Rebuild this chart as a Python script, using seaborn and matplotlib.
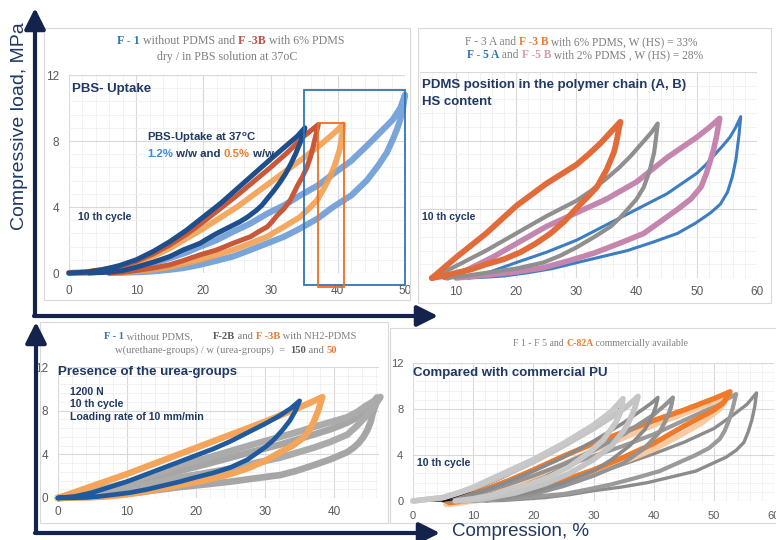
import matplotlib
matplotlib.use("Agg")
import matplotlib.pyplot as plt
from matplotlib.patches import Rectangle
from matplotlib.ticker import AutoMinorLocator
import pandas as pd
import seaborn as sns

# ---- data: hysteresis loops, (compression %, load MPa), loading then unloading
# panel 1 - PBS uptake
p1_f1_dry = [(0, 0), (2.5, 0.05), (5, 0.2), (7.5, 0.45), (10, 0.8), (12.5, 1.3), (15, 1.9), (17.5, 2.6),
             (20, 3.4), (22.5, 4.2), (25, 5.1), (27.5, 6.0), (30, 6.9), (32, 7.6), (34, 8.3), (35.1, 8.8),
             (34.8, 8.3), (34.4, 7.9), (33.7, 7.2), (33, 6.6), (32.2, 6.0), (31.4, 5.5), (30.5, 5.0),
             (29.5, 4.5), (28.7, 4.1), (27.9, 3.8), (26.6, 3.4), (25.4, 3.1), (23.7, 2.75), (22, 2.4),
             (20.7, 2.1), (19.5, 1.8), (17, 1.4), (15, 1.0), (12.5, 0.65), (10, 0.35), (8, 0.15), (6, 0.05),
             (3, 0)]
p1_f3b_dry = [(0, 0), (2.5, 0.05), (5, 0.2), (7.5, 0.4), (10, 0.7), (12.5, 1.15), (15, 1.7), (17.5, 2.35),
              (20, 3.1), (22.5, 3.9), (25, 4.7), (27.5, 5.55), (30, 6.4), (32.5, 7.3), (35, 8.3), (36.2, 8.7),
              (37.1, 9.0), (36.7, 8.3), (36.3, 7.6), (35.9, 7.0), (35.4, 6.4), (34.7, 5.8), (34, 5.3),
              (33.4, 4.8), (32.9, 4.4), (32, 3.9), (31, 3.5), (30.2, 3.1), (29.5, 2.8), (28.2, 2.5), (27, 2.2),
              (25.7, 2.0), (24.4, 1.8), (22, 1.4), (19.5, 1.1), (17, 0.75), (15, 0.5), (12.5, 0.3), (10, 0.15),
              (8, 0.05), (6, 0)]
p1_f3b_pbs = [(0, 0), (2.5, 0.05), (5, 0.2), (7.5, 0.35), (10, 0.6), (12.5, 1.0), (15, 1.5), (17.5, 2.1),
              (20, 2.7), (22.5, 3.35), (25, 4.0), (27.5, 4.75), (30, 5.5), (32.5, 6.25), (35, 7.0), (37.5, 7.8),
              (39.5, 8.5), (40.8, 9.0), (40.6, 8.2), (40.3, 7.5), (39.6, 6.6), (38.8, 5.8), (37.9, 5.1),
              (36.9, 4.4), (35.7, 3.9), (34.4, 3.4), (33.2, 3.1), (32, 2.8), (30.7, 2.5), (29.5, 2.2), (27, 1.8),
              (24.4, 1.4), (22, 1.1), (19.5, 0.8), (17, 0.55), (15, 0.35), (12.5, 0.2), (10, 0.1), (6, 0)]
p1_f1_pbs = [(0, 0), (2.5, 0.02), (5, 0.1), (7.5, 0.2), (10, 0.4), (12.5, 0.6), (15, 0.9), (17.5, 1.25),
             (19.5, 1.6), (22, 2.0), (24.4, 2.5), (27, 3.0), (29.5, 3.6), (32, 4.1), (34.4, 4.7), (37, 5.3),
             (39.3, 6.0), (42, 6.8), (44.3, 7.7), (46.5, 8.6), (48.2, 9.3), (49.3, 10.0), (50, 10.8),
             (49.7, 10.0), (49.3, 9.3), (48.8, 8.7), (48.3, 8.2), (47.3, 7.3), (46, 6.5), (44.3, 5.6), (42, 4.7),
             (39.3, 4.0), (37, 3.3), (34.4, 2.7), (32, 2.2), (29.5, 1.8), (27, 1.4), (24.4, 1.0), (22, 0.75),
             (19.5, 0.5), (17, 0.3), (15, 0.2), (12.5, 0.1), (10, 0.05), (6, 0)]
p1_box_blue = (35, -0.75, 50, 11.1)
p1_box_orange = (37.1, -0.85, 40.9, 9.1)

# panel 2 - PDMS position / HS content
p2_f3b = [(6, 0), (8, 0.6), (10, 1.2), (12.5, 1.9), (15, 2.6), (17.5, 3.4), (20, 4.2), (22.5, 4.85), (25, 5.5),
          (27.5, 6.05), (30, 6.6), (32, 7.2), (34, 7.85), (35.7, 8.5), (37.3, 9.1), (37.0, 8.6), (36.8, 8.2),
          (36.5, 7.7), (36.2, 7.3), (35.6, 6.8), (35, 6.3), (34.2, 5.8), (33.4, 5.3), (31.8, 4.7), (30.1, 4.1),
          (28, 3.3), (25.7, 2.6), (23.2, 2.0), (20.7, 1.5), (18, 1.1), (15, 0.8), (12.5, 0.5), (10, 0.3),
          (8, 0.12), (6, 0)]
p2_f3a = [(6, 0), (8, 0.35), (10, 0.7), (12.5, 1.15), (15, 1.6), (17.5, 2.1), (20, 2.6), (22.5, 3.1), (25, 3.6),
          (27.5, 4.05), (30, 4.5), (32.5, 5.1), (35, 5.8), (37, 6.4), (39, 7.1), (41, 7.9), (42.5, 8.5),
          (43.5, 9.0), (43.2, 8.1), (42.9, 7.3), (42.2, 6.3), (41.2, 5.3), (40, 4.6), (38.5, 4.0), (37.2, 3.5),
          (35.7, 3.0), (33, 2.4), (30.1, 1.8), (27.3, 1.3), (24.5, 0.9), (20, 0.55), (15, 0.3), (11, 0.1),
          (8, 0)]
p2_f5b = [(8.5, 0), (10, 0.2), (12, 0.5), (14, 0.85), (16, 1.2), (18, 1.6), (20, 2.0), (22.5, 2.5), (25, 3.0),
          (27.5, 3.4), (30, 3.8), (32.5, 4.2), (35, 4.6), (37.5, 5.1), (40, 5.6), (42.5, 6.3), (45, 7.0),
          (47.5, 7.6), (50, 8.2), (52, 8.75), (53.8, 9.3), (53.3, 8.3), (52.8, 7.5), (52.3, 6.9), (51.6, 6.1),
          (50.7, 5.3), (49, 4.6), (46.8, 4.0), (44, 3.3), (41.2, 2.6), (37, 2.0), (32.9, 1.45), (28.7, 1.0),
          (24.5, 0.6), (20, 0.35), (16, 0.2), (13, 0.1), (10, 0)]
p2_f5a = [(12, 0), (14, 0.2), (16, 0.4), (18, 0.65), (20, 0.9), (22.5, 1.2), (25, 1.5), (27.5, 1.85), (30, 2.2),
          (32.5, 2.65), (35, 3.1), (37.5, 3.55), (40, 4.0), (42.5, 4.45), (45, 4.9), (47.5, 5.5), (50, 6.1),
          (51.5, 6.6), (53, 7.2), (54.3, 7.7), (55.5, 8.2), (56.5, 8.8), (57.3, 9.4), (57.0, 8.3), (56.5, 6.9),
          (55.9, 5.9), (55.1, 5.0), (53.9, 4.3), (52.3, 3.8), (49.8, 3.2), (46.8, 2.6), (42.8, 2.1), (38.5, 1.6),
          (34.3, 1.25), (30.1, 0.9), (26, 0.55), (21.8, 0.3), (18, 0.12), (15, 0.05), (12, 0)]

# panel 3 - urea groups
p3_f2b_a = [(0, 0), (5, 0.6), (10, 1.4), (14, 2.2), (17.7, 3.0), (21.5, 3.65), (25, 4.3), (28.5, 4.95),
            (32.2, 5.6), (35, 6.1), (37, 6.5), (39.5, 6.95), (41.9, 7.4), (43.4, 7.9), (44.5, 8.4), (45.7, 8.85),
            (46.7, 9.25), (45.6, 8.2), (44.5, 7.4), (43.2, 6.55), (41.9, 5.8), (39.5, 5.15), (37, 4.6),
            (34.6, 4.15), (32.2, 3.7), (28.5, 3.2), (25, 2.7), (21.5, 2.3), (17.7, 1.9), (14, 1.4), (10, 0.9),
            (7.5, 0.55), (5, 0.3), (2.5, 0.1), (0, 0)]
p3_f2b_b = [(0, 0), (5, 0.4), (10, 1.1), (14, 1.8), (17.7, 2.5), (21.5, 3.1), (25, 3.7), (28.5, 4.3),
            (32.2, 4.9), (34.6, 5.35), (37, 5.8), (39.5, 6.3), (41.9, 6.9), (43.4, 7.4), (44.5, 8.0),
            (45.5, 8.6), (46.2, 9.2), (46.0, 8.5), (45.6, 7.8), (45.3, 7.0), (44.8, 6.2), (44.2, 5.55),
            (43.5, 5.0), (42.8, 4.6), (41.9, 4.2), (39.5, 3.55), (37, 3.0), (34.6, 2.5), (32.2, 2.1), (28.5, 1.8),
            (25, 1.5), (21.5, 1.25), (17.7, 1.0), (14, 0.7), (10, 0.4), (7.5, 0.2), (5, 0.1), (0, 0)]
p3_f3b = [(0, 0), (5, 1.1), (10, 2.2), (15, 3.4), (20, 4.6), (25, 5.8), (30, 7.0), (35, 8.3), (36.8, 8.8),
          (38.3, 9.25), (37.7, 8.0), (37, 6.9), (36.3, 6.1), (35.5, 5.5), (34, 4.8), (32.2, 4.2), (30, 3.4),
          (27.4, 2.7), (25, 2.2), (22.5, 1.8), (20, 1.45), (17, 1.1), (14.5, 0.8), (12, 0.5), (9, 0.25),
          (6, 0.1), (0, 0)]
p3_f1 = [(0, 0), (2.5, 0.15), (5, 0.5), (7.5, 1.0), (10, 1.5), (12.5, 2.1), (15, 2.7), (17.5, 3.3), (20, 3.9),
         (22.5, 4.5), (25, 5.2), (27.5, 6.0), (30, 6.8), (32, 7.5), (33.7, 8.2), (35, 8.9), (34.4, 8.0),
         (33.6, 7.1), (32.5, 6.2), (31.2, 5.3), (30.1, 4.7), (29, 4.2), (27.4, 3.5), (25, 2.8), (22.5, 2.3),
         (20, 1.9), (17.7, 1.5), (15, 1.1), (13, 0.8), (10.5, 0.5), (8, 0.3), (6, 0.15), (4, 0.05), (0, 0)]

# panel 4 - commercial PU
p4_gray_35 = [(0, 0), (5, 0.3), (7.5, 0.7), (10, 1.2), (12.5, 1.8), (15, 2.4), (17.5, 3.0), (20, 3.6),
              (22.5, 4.3), (25, 5.0), (27.5, 5.8), (30, 6.6), (33, 7.8), (34.9, 8.9), (34.7, 8.2), (34.4, 7.6),
              (33.8, 6.9), (33, 6.3), (31.6, 5.3), (30.3, 4.7), (29, 4.1), (26, 3.0), (22.5, 2.1), (19.4, 1.5),
              (16, 1.0), (13, 0.5), (10, 0.2), (7, 0)]
p4_black = [(3, 0), (5, 0), (10, 0.9), (15, 2.0), (20, 3.3), (25, 4.7), (30, 6.3), (34.5, 8.6), (33.8, 7.2),
            (32, 5.6), (29, 4.2), (26, 3.2), (22, 2.2), (18, 1.4), (14, 0.8), (10, 0.3), (5, 0)]
p4_gray_37 = [(0, 0), (5, 0.3), (10, 1.1), (15, 2.2), (20, 3.4), (25, 4.8), (30, 6.3), (33, 7.3), (35, 8.0),
              (36.4, 8.6), (37.4, 9.1), (37.0, 8.3), (36.5, 7.6), (35.8, 6.8), (35, 6.1), (33, 4.8), (30, 3.6),
              (26, 2.4), (22, 1.5), (17, 0.7), (12, 0.2), (8, 0)]
p4_gray_41 = [(5, 0), (10, 0.6), (15, 1.5), (20, 2.6), (25, 3.8), (30, 5.2), (35, 6.8), (38, 7.9), (39.6, 8.5),
              (40.7, 9.0), (40.4, 8.3), (40, 7.7), (39.3, 6.9), (38.5, 6.2), (36, 4.8), (33, 3.6), (30, 2.6),
              (25, 1.6), (20, 0.8), (15, 0.3), (10, 0)]
p4_gray_43 = [(6, 0), (10, 0.5), (15, 1.3), (20, 2.2), (25, 3.2), (30, 4.4), (35, 5.8), (40, 7.5), (41.8, 8.3),
              (43.2, 9.0), (42.9, 8.2), (42.5, 7.6), (41.8, 6.8), (41, 6.0), (38.5, 4.6), (35, 3.3), (30, 2.2),
              (25, 1.3), (20, 0.6), (15, 0.2), (10, 0)]
p4_c82a_light = [(5.5, -0.3), (10, 0.3), (15, 1.1), (20, 2.0), (25, 3.2), (30, 4.4), (35, 5.5), (40, 6.6),
                 (45, 7.6), (50, 8.6), (52.5, 9.3), (51.8, 8.6), (51, 8.0), (48, 6.8), (44, 5.6), (40, 4.5),
                 (35, 3.4), (30, 2.4), (25, 1.5), (20, 0.8), (15, 0.3), (10, 0), (6, -0.3)]
p4_c82a = [(5.5, 0), (8, 0.3), (12, 1.0), (16, 1.8), (20, 2.7), (25, 3.9), (30, 5.0), (35, 6.0), (40, 7.0),
           (45, 7.9), (50, 8.9), (52.7, 9.5), (52.2, 9.0), (51.5, 8.5), (50, 7.9), (47.5, 7.2), (45, 6.5),
           (40, 5.0), (35, 3.8), (30, 2.7), (25, 1.8), (20, 1.0), (15, 0.4), (10, 0.1), (6, -0.15)]
p4_gray_54 = [(8, 0), (12, 0.5), (16, 1.2), (20, 2.0), (25, 3.0), (30, 3.9), (35, 4.8), (40, 5.8), (45, 7.0),
              (50, 8.2), (53.7, 9.3), (53.1, 8.0), (52.5, 7.0), (51.8, 6.1), (51, 5.4), (49.2, 4.6), (47, 4.0),
              (44, 3.3), (41, 2.6), (37, 2.0), (33, 1.45), (29, 1.0), (25, 0.6), (16, 0.2), (10, 0)]
p4_gray_57 = [(12, 0), (16, 0.4), (20, 0.9), (25, 1.5), (30, 2.3), (35, 3.2), (40, 4.1), (45, 5.1), (50, 6.3),
              (53, 7.4), (55.5, 8.4), (57.1, 9.4), (56.8, 8.2), (56.3, 7.0), (55.7, 6.0), (55, 5.1), (53.7, 4.4),
              (52, 3.8), (49.5, 3.2), (47, 2.6), (43, 2.1), (39, 1.6), (34.5, 1.2), (30, 0.9), (26, 0.55),
              (22, 0.3), (15, 0.05), (12, 0)]

NAVY = "#1F3864"
ARROW = "#14234C"
GREY_TXT = "#7F7F7F"
SERIF = ["Liberation Serif", "DejaVu Serif"]
SANS = ["Liberation Sans", "DejaVu Sans"]

sns.set_theme(style="white")
plt.rcParams["font.family"] = SANS

fig = plt.figure(figsize=(7.76, 5.4), dpi=100)
W, H = 776, 540


def make_axes(x0, x1, y_top, y_bot, xlim, xticks, yticks, pad_x, pad_y, show_y=True, size=8.5):
    # pixel box -> figure fractions, x range maps to xlim
    ax = fig.add_axes([x0 / W, 1 - y_bot / H, (x1 - x0) / W, (y_bot - y_top) / H])
    ax.set_xlim(*xlim)
    ax.set_ylim(0, 12)
    ax.set_xticks(xticks)
    ax.set_yticks(yticks)
    ax.xaxis.set_minor_locator(AutoMinorLocator(5))
    ax.yaxis.set_minor_locator(AutoMinorLocator(5))
    ax.grid(which="major", color="#D9D9D9", lw=0.8)
    ax.grid(which="minor", color="#F0F0F0", lw=0.6)
    ax.set_axisbelow(True)
    for s in ax.spines.values():
        s.set_visible(False)
    ax.tick_params(which="both", length=0, labelsize=size, labelcolor="#595959")
    ax.tick_params(axis="x", pad=pad_x)
    ax.tick_params(axis="y", pad=pad_y, labelleft=show_y)
    return ax


def draw_loop(ax, pts, color, lw, alpha=1.0):
    df = pd.DataFrame(pts, columns=["compression", "load"])
    sns.lineplot(data=df, x="compression", y="load", sort=False, estimator=None, ax=ax,
                 color=color, lw=lw, alpha=alpha, solid_capstyle="round", solid_joinstyle="round")
    ax.lines[-1].set_clip_on(False)
    ax.set_xlabel("")
    ax.set_ylabel("")


# panel 1
ax1 = make_axes(69, 405, 75, 273, (0, 50), range(0, 51, 10), [0, 4, 8, 12], 9, 7)
draw_loop(ax1, p1_f1_pbs, "#6C9BD6", 4.5, 0.9)
draw_loop(ax1, p1_f3b_pbs, "#F2A050", 4.2, 0.9)
draw_loop(ax1, p1_f3b_dry, "#C8583A", 3.6)
draw_loop(ax1, p1_f1_dry, "#1F4E8C", 3.6)
for (x0, y0, x1, y1), c in [(p1_box_blue, "#2E75B6"), (p1_box_orange, "#F07020")]:
    ax1.add_patch(Rectangle((x0, y0), x1 - x0, y1 - y0, fill=False, ec=c, lw=1.3, clip_on=False, zorder=5))

# panel 2
ax2 = make_axes(420, 757, 72, 278, (4, 60), range(10, 61, 10), [0, 4, 8, 12], 6, 7, show_y=False)
draw_loop(ax2, p2_f5a, "#3C7DC4", 2.2)
draw_loop(ax2, p2_f5b, "#C486AE", 4.0)
draw_loop(ax2, p2_f3a, "#8F8F8F", 3.0)
draw_loop(ax2, p2_f3b, "#E26B3A", 4.2)

# panel 3
ax3 = make_axes(58, 379, 367, 498, (0, 46.5), range(0, 41, 10), [0, 4, 8, 12], 6, 7)
draw_loop(ax3, p3_f2b_b, "#A6A6A6", 4.8)
draw_loop(ax3, p3_f2b_a, "#ABABAB", 4.8)
draw_loop(ax3, p3_f3b, "#F4A55A", 4.6)
draw_loop(ax3, p3_f1, "#1F5A9E", 3.4)

# panel 4
ax4 = make_axes(413, 774, 363, 501, (0, 60), range(0, 61, 10), [0, 4, 8, 12], 7, 7, size=8)
draw_loop(ax4, p4_gray_57, "#8C8C8C", 2.4)
draw_loop(ax4, p4_gray_54, "#9A9A9A", 3.0)
draw_loop(ax4, p4_c82a_light, "#F9C9A0", 4.0)
draw_loop(ax4, p4_c82a, "#EE7A2A", 3.8)
draw_loop(ax4, p4_gray_43, "#939393", 3.0)
draw_loop(ax4, p4_gray_41, "#8A8A8A", 2.6)
draw_loop(ax4, p4_black, "#111111", 1.0)
draw_loop(ax4, p4_gray_37, "#C4C4C4", 4.0)
draw_loop(ax4, p4_gray_35, "#C8C8C8", 4.0)

# overlay in pixel coordinates for frames, arrows and text
ov = fig.add_axes([0, 0, 1, 1], zorder=10)
ov.set_xlim(0, W)
ov.set_ylim(H, 0)
ov.axis("off")
ov.patch.set_alpha(0)

for x0, y0, x1, y1 in [(44, 28, 410, 300), (418, 28, 771, 303), (40, 322, 388, 523), (390, 328, 780, 523)]:
    ov.add_patch(Rectangle((x0, y0), x1 - x0, y1 - y0, fill=False, ec="#D9D9D9", lw=0.8))

arrow = dict(arrowstyle="-|>,head_length=0.9,head_width=0.45", lw=3, color=ARROW, shrinkA=0, shrinkB=0,
             mutation_scale=14)
ov.annotate("", xy=(35, 8), xytext=(35, 316), arrowprops=arrow)
ov.annotate("", xy=(438, 316), xytext=(34, 316), arrowprops=arrow)
ov.annotate("", xy=(36, 322), xytext=(36, 533), arrowprops=arrow)
ov.annotate("", xy=(440, 533), xytext=(35, 533), arrowprops=arrow)

ov.text(20, 126, "Compressive load, MPa", rotation=90, ha="center", va="center", color=NAVY, fontsize=14)
ov.text(452, 532, "Compression, %", ha="left", va="center", color=NAVY, fontsize=13.5)


def rich_line(x, y, parts, size, family):
    t = None
    for s, color, bold in parts:
        kw = dict(color=color, fontsize=size, family=family, fontweight="bold" if bold else "normal",
                  va="bottom", ha="left")
        if t is None:
            t = ov.text(x, y, s, **kw)
        else:
            t = ov.annotate(s, xy=(1, 0), xycoords=t, **kw)
    return t


BLUE_T, RED_T, ORANGE_T, PINK_T = "#2E75B6", "#C0504D", "#ED7D31", "#D99AB5"

# panel 1 texts
rich_line(117, 47, [("F - 1", BLUE_T, True), (" without PDMS and ", GREY_TXT, False), ("F -3B", RED_T, True),
                    (" with 6% PDMS", GREY_TXT, False)], 8.6, SERIF)
rich_line(157, 63, [("dry / in PBS solution at 37oC", GREY_TXT, False)], 8.6, SERIF)
ov.text(72, 89, "PBS- Uptake", color=NAVY, fontsize=9.5, fontweight="bold", va="center")
ov.text(147, 138, "PBS-Uptake at 37$^{\\mathregular{o}}$C", color=NAVY, fontsize=8.2, fontweight="bold", va="center")
rich_line(147, 159, [("1.2%", "#3C8AD8", True), (" w/w and ", NAVY, True), ("0.5%", "#F07D28", True),
                     (" w/w", NAVY, True)], 8.2, SANS)
ov.text(78, 217, "10 th cycle", color=NAVY, fontsize=7.6, fontweight="bold", va="center")

# panel 2 texts
rich_line(465, 48, [("F - 3 A and ", GREY_TXT, False), ("F -3 B", ORANGE_T, True),
                    (" with 6% PDMS, W (HS) = 33%", GREY_TXT, False)], 8.3, SERIF)
rich_line(467, 61, [("F - 5 A", BLUE_T, True), (" and ", GREY_TXT, False), ("F -5 B", PINK_T, True),
                    (" with 2% PDMS , W (HS) = 28%", GREY_TXT, False)], 8.3, SERIF)
ov.text(422, 85, "PDMS position in the polymer chain (A, B)", color=NAVY, fontsize=9.5, fontweight="bold",
        va="center")
ov.text(422, 102, "HS content", color=NAVY, fontsize=9.5, fontweight="bold", va="center")
ov.text(422, 217, "10 th cycle", color=NAVY, fontsize=7.6, fontweight="bold", va="center")

# panel 3 texts
rich_line(104, 341, [("F - 1", BLUE_T, True), (" without PDMS,", GREY_TXT, False)], 7.6, SERIF)
rich_line(213, 341, [("F-2B", "#595959", True), (" and ", GREY_TXT, False), ("F -3B", ORANGE_T, True),
                     (" with NH2-PDMS", GREY_TXT, False)], 7.6, SERIF)
rich_line(115, 355, [("w(urethane-groups) / w (urea-groups)  =  ", GREY_TXT, False), ("150", "#595959", True),
                     (" and ", GREY_TXT, False), ("50", ORANGE_T, True)], 7.6, SERIF)
ov.text(58, 372, "Presence of the urea-groups", color=NAVY, fontsize=9.5, fontweight="bold", va="center")
for yy, s in [(392, "1200 N"), (404, "10 th cycle"), (417, "Loading rate of 10 mm/min")]:
    ov.text(70, yy, s, color=NAVY, fontsize=7.6, fontweight="bold", va="center")

# panel 4 texts
rich_line(513, 348, [("F 1 - F 5 and ", GREY_TXT, False), ("C-82A", ORANGE_T, True),
                     (" commercially available", GREY_TXT, False)], 7.0, SERIF)
ov.text(413, 373, "Compared with commercial PU", color=NAVY, fontsize=9.5, fontweight="bold", va="center")
ov.text(417, 463, "10 th cycle", color=NAVY, fontsize=7.6, fontweight="bold", va="center")

fig.savefig("out.png", dpi=100)
